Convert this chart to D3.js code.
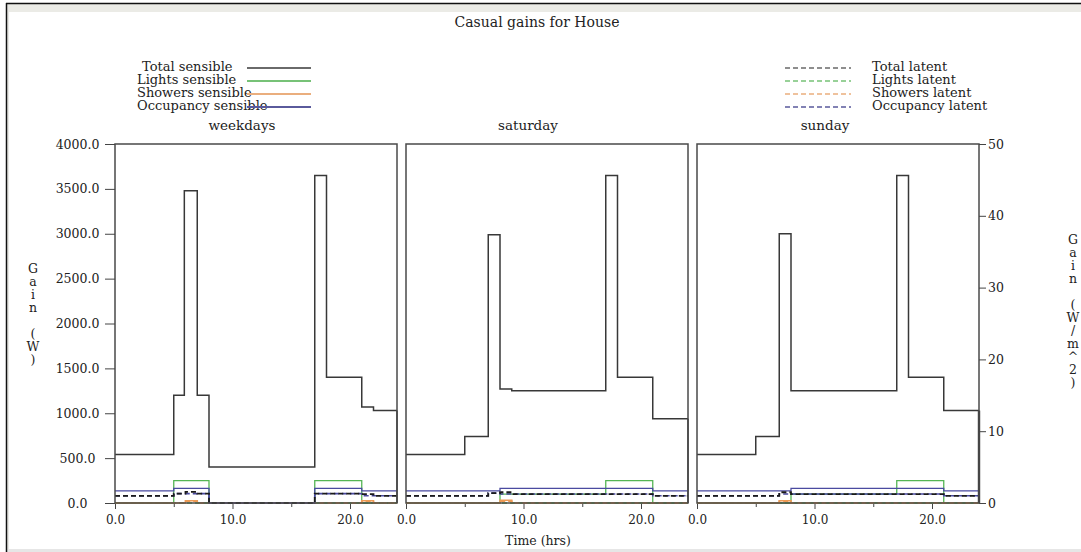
<!DOCTYPE html>
<html>
<head>
<meta charset="utf-8">
<script src="https://cdn.jsdelivr.net/npm/d3@7"></script>
<style>
  html, body { margin: 0; padding: 0; background: #fff; }
  svg { display: block; font-family: "DejaVu Serif", serif; }
</style>
</head>
<body>
<svg id="chart" width="1081" height="552"></svg>
<script>
// Day types shown as panels
const days = ["weekdays", "saturday", "sunday"];

// Step profiles: [start hour, gain in W]; each value holds until the next start hour (end at 24 h)
const weekdayTotalSensible   = [[0,540],[5,1200],[5.9,3480],[7,1200],[8,400],[17,3650],[18,1400],[21,1070],[22,1030]];
const weekdayLightsSensible  = [[0,0],[5,250],[8,0],[17,250],[21,0]];
const weekdayShowersSensible = [[0,0],[6,25],[7,0],[21,25],[22,0]];
const weekdayOccSensible     = [[0,134],[5,164],[8,0],[17,164],[21,134]];
const weekdayTotalLatent     = [[0,80],[5,105],[6,125],[7,105],[8,0],[17,105],[21,100],[22,80]];
const weekdayLightsLatent    = [[0,0]];
const weekdayShowersLatent   = [[0,0],[6,20],[7,0],[21,20],[22,0]];
const weekdayOccLatent       = [[0,80],[5,105],[8,0],[17,105],[21,80]];

const saturdayTotalSensible   = [[0,540],[5,740],[7,2990],[8,1270],[9,1250],[17,3650],[18,1400],[21,940]];
const saturdayLightsSensible  = [[0,0],[8,100],[17,250],[21,0]];
const saturdayShowersSensible = [[0,0],[8,30],[9,0]];
const saturdayOccSensible     = [[0,134],[8,164],[21,134]];
const saturdayTotalLatent     = [[0,80],[7,110],[8,120],[9,100],[21,80]];
const saturdayLightsLatent    = [[0,0]];
const saturdayShowersLatent   = [[0,0],[8,20],[9,0]];
const saturdayOccLatent       = [[0,80],[7,110],[8,100],[21,80]];

const sundayTotalSensible   = [[0,540],[5,740],[7,3000],[8,1250],[17,3650],[18,1400],[21,1030]];
const sundayLightsSensible  = [[0,0],[8,100],[17,250],[21,0]];
const sundayShowersSensible = [[0,0],[7,25],[8,0]];
const sundayOccSensible     = [[0,134],[8,164],[21,134]];
const sundayTotalLatent     = [[0,80],[7,120],[8,100],[21,80]];
const sundayLightsLatent    = [[0,0]];
const sundayShowersLatent   = [[0,0],[7,20],[8,0]];
const sundayOccLatent       = [[0,80],[7,100],[21,80]];

// Axis ticks
const gainTicks = [0,500,1000,1500,2000,2500,3000,3500,4000];
const areaTicks = [0,10,20,30,40,50];
const hourTicks = [0,5,10,15,20];
const hourLabels = {0:"0.0", 10:"10.0", 20:"20.0"};

// Legend entries
const sensibleNames = ["Total sensible","Lights sensible","Showers sensible","Occupancy sensible"];
const latentNames   = ["Total latent","Lights latent","Showers latent","Occupancy latent"];

const profiles = {
  weekdays: { ts: weekdayTotalSensible, ls: weekdayLightsSensible, ss: weekdayShowersSensible, os: weekdayOccSensible,
              tl: weekdayTotalLatent, ll: weekdayLightsLatent, sl: weekdayShowersLatent, ol: weekdayOccLatent },
  saturday: { ts: saturdayTotalSensible, ls: saturdayLightsSensible, ss: saturdayShowersSensible, os: saturdayOccSensible,
              tl: saturdayTotalLatent, ll: saturdayLightsLatent, sl: saturdayShowersLatent, ol: saturdayOccLatent },
  sunday:   { ts: sundayTotalSensible, ls: sundayLightsSensible, ss: sundayShowersSensible, os: sundayOccSensible,
              tl: sundayTotalLatent, ll: sundayLightsLatent, sl: sundayShowersLatent, ol: sundayOccLatent }
};

const colors = { total: "#383838", lights: "#55b555", showers: "#ec9a55", occ: "#4a4aa0" };
const legendColors = { total: "#6a6a6a", lights: "#77c277", showers: "#eaae7e", occ: "#5a5a9c" };
const textColor = "#222";

const svg = d3.select("#chart");

// Window frame
svg.append("rect").attr("x", 7).attr("y", 4).attr("width", 1074).attr("height", 8).attr("fill", "#ebebe6");
svg.append("rect").attr("x", 7).attr("y", 4).attr("width", 2).attr("height", 548).attr("fill", "#e8e8e4");
svg.append("rect").attr("x", 7).attr("y", 549).attr("width", 1074).attr("height", 3).attr("fill", "#e6e6e6");
svg.append("line").attr("x1", 6).attr("x2", 1081).attr("y1", 3.5).attr("y2", 3.5).attr("stroke", "#111").attr("stroke-width", 1.5);
svg.append("line").attr("x1", 6.5).attr("x2", 6.5).attr("y1", 3).attr("y2", 552).attr("stroke", "#111").attr("stroke-width", 1.5);

// Geometry
const plotTop = 144, plotBottom = 503;
const panelX = [[115, 397], [406, 688], [697, 979]];
const yGain = d3.scaleLinear().domain([0, 4000]).range([plotBottom, plotTop]);
const yArea = d3.scaleLinear().domain([0, 50]).range([plotBottom, plotTop]);

// Title
svg.append("text").attr("x", 537).attr("y", 27).attr("text-anchor", "middle")
  .attr("font-size", 14).attr("fill", textColor).text("Casual gains for House");

// Sensible legend
const legL = svg.append("g");
const legRowsY = [68, 81, 94, 107];
sensibleNames.forEach((name, i) => {
  const key = ["total","lights","showers","occ"][i];
  legL.append("text").attr("x", i === 0 ? 142 : 137).attr("y", legRowsY[i] + 3)
    .attr("font-size", 13).attr("fill", textColor).text(name);
  legL.append("line").attr("x1", 247).attr("x2", 311).attr("y1", legRowsY[i]).attr("y2", legRowsY[i])
    .attr("stroke", legendColors[key]).attr("stroke-width", 1.8);
});

// Latent legend
const legR = svg.append("g");
latentNames.forEach((name, i) => {
  const key = ["total","lights","showers","occ"][i];
  legR.append("line").attr("x1", 785).attr("x2", 851).attr("y1", legRowsY[i]).attr("y2", legRowsY[i])
    .attr("stroke", legendColors[key]).attr("stroke-width", 1.6).attr("stroke-dasharray", "5,3");
  legR.append("text").attr("x", 872).attr("y", legRowsY[i] + 3)
    .attr("font-size", 13).attr("fill", textColor).text(name);
});

// Extend a step profile to the end of the day
function toPoints(profile) {
  const pts = profile.map(d => [d[0], d[1]]);
  pts.push([24, profile[profile.length - 1][1]]);
  return pts;
}

const titleX = [242, 528, 825];

days.forEach((day, p) => {
  const [x0, x1] = panelX[p];
  const x = d3.scaleLinear().domain([0, 24]).range([x0, x1]);
  const g = svg.append("g");
  const prof = profiles[day];

  // panel title
  g.append("text").attr("x", titleX[p]).attr("y", 130).attr("text-anchor", "middle")
    .attr("font-size", 13.5).attr("fill", textColor).text(day);

  // hour axis
  const xAxis = g.append("g").attr("transform", `translate(0,${plotBottom})`)
    .call(d3.axisBottom(x).tickValues(hourTicks).tickSize(6).tickPadding(6)
      .tickFormat(d => hourLabels[d] || ""));
  xAxis.select(".domain").remove();
  xAxis.selectAll(".tick line").attr("stroke", "#444").attr("y2", d => hourLabels[d] ? 6 : 4);
  xAxis.selectAll("text").attr("font-family", "DejaVu Serif, serif").attr("font-size", 12).attr("fill", textColor);

  const line = d3.line().x(d => x(d[0])).y(d => yGain(d[1])).curve(d3.curveStepAfter);
  const straight = d3.line().x(d => x(d[0])).y(d => yGain(d[1]));

  // sensible gains (solid)
  const solid = [["ls", colors.lights, 1.3], ["os", colors.occ, 1.3], ["ss", colors.showers, 1.6]];
  solid.forEach(([k, c, w]) => {
    g.append("path").attr("d", line(toPoints(prof[k]))).attr("fill", "none")
      .attr("stroke", c).attr("stroke-width", w);
  });
  // latent gains (dashed)
  const dashed = [["ll", colors.lights, 1.3], ["sl", colors.showers, 1.6], ["ol", colors.occ, 1.6], ["tl", "#1a1a1a", 1.8]];
  dashed.forEach(([k, c, w]) => {
    g.append("path").attr("d", line(toPoints(prof[k]))).attr("fill", "none")
      .attr("stroke", c).attr("stroke-width", w).attr("stroke-dasharray", "5,3");
  });
  // total sensible on top, closing down to zero at the end of the day
  const tsPts = toPoints(prof.ts);
  g.append("path").attr("d", line(tsPts)).attr("fill", "none")
    .attr("stroke", colors.total).attr("stroke-width", 1.5);
  const last = tsPts[tsPts.length - 1];
  g.append("path").attr("d", straight([last, [24, 0]])).attr("fill", "none")
    .attr("stroke", colors.total).attr("stroke-width", p === 2 ? 2.4 : 1.5);

  // panel frame
  g.append("rect").attr("x", x0).attr("y", plotTop).attr("width", x1 - x0).attr("height", plotBottom - plotTop)
    .attr("fill", "none").attr("stroke", "#4a4a4a").attr("stroke-width", 1.5);
});

// Left gain axis
const yAxisL = svg.append("g").attr("transform", `translate(${panelX[0][0]},0)`)
  .call(d3.axisLeft(yGain).tickValues(gainTicks).tickSize(10).tickFormat(d3.format(".1f")));
yAxisL.select(".domain").remove();
yAxisL.selectAll(".tick line").attr("stroke", "#444");
yAxisL.selectAll("text").attr("text-anchor", "middle").attr("x", -37.5)
  .attr("font-family", "DejaVu Serif, serif").attr("font-size", 12.5).attr("fill", textColor);

// Right per-area axis
const yAxisR = svg.append("g").attr("transform", `translate(${panelX[2][1]},0)`)
  .call(d3.axisRight(yArea).tickValues(areaTicks).tickSize(7).tickPadding(2).tickFormat(d3.format("d")));
yAxisR.select(".domain").remove();
yAxisR.selectAll(".tick line").attr("stroke", "#444");
yAxisR.selectAll("text").attr("font-family", "DejaVu Serif, serif").attr("font-size", 12.5).attr("fill", textColor);

// Stacked axis titles
function stackedLabel(cx, y0, chars) {
  chars.forEach((ch, i) => {
    if (ch === " ") return;
    svg.append("text").attr("x", cx).attr("y", y0 + i * 13).attr("text-anchor", "middle")
      .attr("font-size", 12.5).attr("fill", textColor).text(ch);
  });
}
stackedLabel(33, 273, ["G","a","i","n"," ","(","W",")"]);
stackedLabel(1073, 244, ["G","a","i","n"," ","(","W","/","m","^","2",")"]);

// Hour axis title
svg.append("text").attr("x", 538).attr("y", 545).attr("text-anchor", "middle")
  .attr("font-size", 12.5).attr("fill", textColor).text("Time (hrs)");
</script>
</body>
</html>
